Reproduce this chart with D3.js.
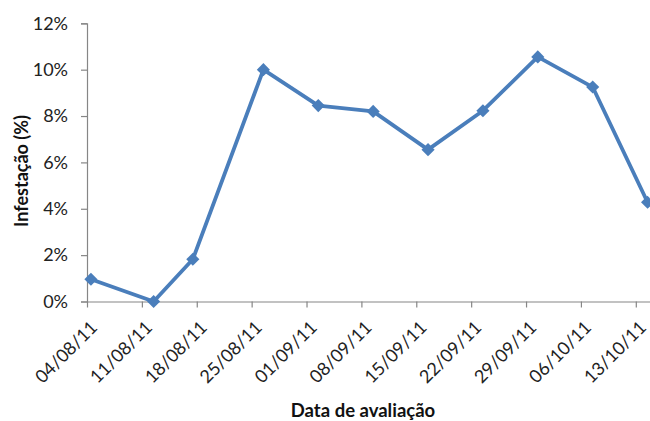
<!DOCTYPE html>
<html><head><meta charset="utf-8">
<script src="https://cdn.jsdelivr.net/npm/d3@7"></script>
<style>body{margin:0;background:#fff}svg{display:block}</style>
</head><body>
<svg id="c" width="650" height="421"></svg>
<script>
// Data
const dates = ["2011-08-04","2011-08-12","2011-08-17","2011-08-26","2011-09-02","2011-09-09","2011-09-16","2011-09-23","2011-09-30","2011-10-07","2011-10-14"];
const values = [0.96, 0.0, 1.82, 10.0, 8.45, 8.2, 6.55, 8.23, 10.55, 9.25, 4.28];
const tickDates = ["2011-08-04","2011-08-11","2011-08-18","2011-08-25","2011-09-01","2011-09-08","2011-09-15","2011-09-22","2011-09-29","2011-10-06","2011-10-13"];
const yTicks = [0, 2, 4, 6, 8, 10, 12];

const parse = d3.timeParse("%Y-%m-%d");
const fmt = d3.timeFormat("%d/%m/%y");
const svg = d3.select("#c");
const font = "Lato, 'Open Sans', sans-serif";

const x0 = 87, pxDay = 7.84;
const x = d3.scaleTime()
  .domain([parse("2011-08-04"), parse("2011-10-15")])
  .range([x0, x0 + 72 * pxDay]);
const y = d3.scaleLinear().domain([0, 12]).range([301.5, 23.3]);

const axisColor = "#868686";

// Y axis
const ya = svg.append("g").attr("transform", `translate(${x0},0)`)
  .call(d3.axisLeft(y).tickValues(yTicks).tickFormat(d => d + "%").tickSize(6).tickPadding(13));
ya.select(".domain").attr("stroke", axisColor).attr("stroke-width", 1.2);
ya.selectAll(".tick line").attr("stroke", axisColor).attr("stroke-width", 1.2);
ya.selectAll(".tick text").attr("font-family", font).attr("font-size", 18).attr("fill", "#222");

// X axis
const xa = svg.append("g").attr("transform", `translate(0,${y(0)})`)
  .call(d3.axisBottom(x).tickValues(tickDates.map(parse)).tickFormat(fmt).tickSize(6).tickSizeOuter(0));
xa.select(".domain").attr("stroke", axisColor).attr("stroke-width", 1.2);
xa.selectAll(".tick line").attr("stroke", axisColor).attr("stroke-width", 1.2);
xa.selectAll(".tick text")
  .attr("font-family", font).attr("font-size", 18).attr("fill", "#222")
  .attr("text-anchor", "end")
  .attr("dy", 0)
  .attr("transform", "translate(11,27) rotate(-45)")
  .attr("y", 0);

// Line
const pts = dates.map((d, i) => ({t: d3.timeHour.offset(parse(d), 12), v: values[i]}));
const line = d3.line().x(d => x(d.t)).y(d => y(d.v));
svg.append("path").datum(pts).attr("d", line)
  .attr("fill", "none").attr("stroke", "#4a7ebb").attr("stroke-width", 3.8).attr("stroke-linejoin", "round");

// Markers
svg.selectAll("path.m").data(pts).enter().append("path").attr("class", "m")
  .attr("d", d3.symbol().type(d3.symbolDiamond2).size(110))
  .attr("transform", d => `translate(${x(d.t)},${y(d.v)})`)
  .attr("fill", "#4a7ebb");

// Axis titles
svg.append("text").attr("x", 363).attr("y", 417).attr("text-anchor", "middle")
  .attr("font-family", font).attr("font-weight", "bold").attr("font-size", 18.5).attr("fill", "#111")
  .text("Data de avaliação");
svg.append("text").attr("transform", "translate(28,171) rotate(-90)").attr("text-anchor", "middle")
  .attr("font-family", font).attr("font-weight", "bold").attr("font-size", 18).attr("fill", "#111")
  .text("Infestação (%)");
</script>
</body></html>
